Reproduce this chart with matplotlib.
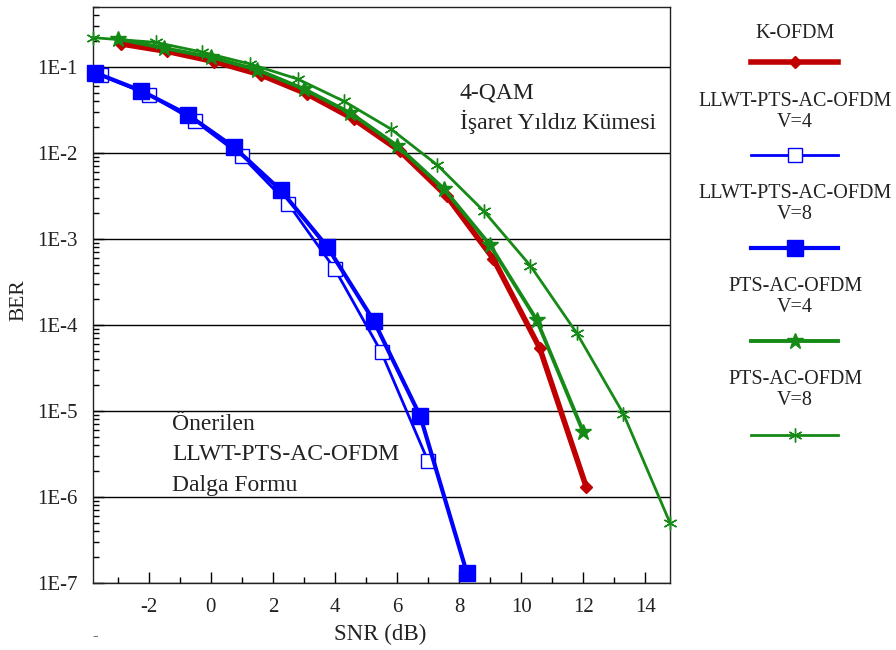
import matplotlib
matplotlib.use("Agg")
import matplotlib.pyplot as plt
from matplotlib.lines import Line2D
from matplotlib.ticker import LogLocator, FixedLocator, NullFormatter
import numpy as np

plt.rcParams['font.family'] = ['Liberation Serif', 'DejaVu Serif']

# ---- data ----
snr_k = [-2.9, -1.4, 0.1, 1.6, 3.1, 4.6, 6.1, 7.6, 9.1, 10.6, 12.1]
ber_k = [0.186, 0.152, 0.116, 0.0814, 0.0487, 0.0249, 0.0105, 0.00316, 5.93e-4, 5.4e-5, 1.31e-6]

snr_llwt4 = [-3.55, -2.0, -0.5, 1.0, 2.5, 4.0, 5.5, 7.0]
ber_llwt4 = [0.080, 0.0478, 0.0234, 0.00918, 0.00255, 4.45e-4, 4.8e-5, 2.62e-6]

snr_llwt8 = [-3.75, -2.25, -0.75, 0.75, 2.25, 3.75, 5.25, 6.75, 8.25]
ber_llwt8 = [0.0865, 0.0531, 0.028, 0.01167, 0.0037, 8.17e-4, 1.12e-4, 8.7e-6, 1.32e-7]

snr_pts4 = [-3.0, -1.5, 0.0, 1.5, 3.0, 4.5, 6.0, 7.5, 9.0, 10.5, 12.0]
ber_pts4 = [0.213, 0.166, 0.131, 0.093, 0.0556, 0.0292, 0.0122, 0.00387, 8.5e-4, 1.15e-4, 5.77e-6]

snr_pts8 = [-3.8, -1.78, -0.3, 1.25, 2.8, 4.3, 5.8, 7.3, 8.8, 10.3, 11.8, 13.3, 14.8]
ber_pts8 = [0.220, 0.194, 0.15, 0.109, 0.0726, 0.0399, 0.0191, 0.00726, 0.00211, 4.9e-4, 8.0e-5, 9.25e-6, 5.0e-7]

x_ticks = [-2, 0, 2, 4, 6, 8, 10, 12, 14]
y_ticks = [1e-7, 1e-6, 1e-5, 1e-4, 1e-3, 1e-2, 1e-1]
y_labels = ["1E-7", "1E-6", "1E-5", "1E-4", "1E-3", "1E-2", "1E-1"]

legend_names = ["K-OFDM", "LLWT-PTS-AC-OFDM\nV=4", "LLWT-PTS-AC-OFDM\nV=8",
                "PTS-AC-OFDM\nV=4", "PTS-AC-OFDM\nV=8"]

RED = '#c00000'
BLUE = '#0000ff'
GREEN = '#168a16'
TXT = '#222222'

fig = plt.figure(figsize=(8.96, 6.5), dpi=100)
ax = fig.add_axes([93/896, 1-583/650, (670-93)/896, (583-7)/650])

styles = [
    dict(color=RED, lw=4.0, marker='D', ms=6, mfc=RED, mec=RED, zorder=3),
    dict(color=BLUE, lw=2.0, marker='s', ms=10, mfc='white', mec=BLUE, mew=1.0, zorder=4),
    dict(color=BLUE, lw=3.0, marker='s', ms=11, mfc=BLUE, mec=BLUE, zorder=5),
    dict(color=GREEN, lw=2.8, marker='*', ms=12, mfc=GREEN, mec=GREEN, zorder=4),
    dict(color=GREEN, lw=2.0, marker=(6, 2, 0), ms=10, mfc=GREEN, mec=GREEN, mew=1.0, zorder=4),
]
series = [(snr_k, ber_k), (snr_llwt4, ber_llwt4), (snr_llwt8, ber_llwt8),
          (snr_pts4, ber_pts4), (snr_pts8, ber_pts8)]

for (x, y), st in zip(series, styles):
    ax.plot(x, y, clip_on=False, **st)

ax.set_yscale('log')
ax.set_xlim(-3.8, 14.8)
ax.set_ylim(1e-7, 0.5)

ax.yaxis.set_major_locator(FixedLocator(y_ticks))
ax.set_yticklabels(y_labels)
ax.yaxis.set_minor_locator(LogLocator(base=10, subs=np.arange(2, 10)))
ax.yaxis.set_minor_formatter(NullFormatter())
ax.set_xticks(x_ticks)
ax.set_xticklabels([str(t) for t in x_ticks])
ax.xaxis.set_minor_locator(FixedLocator(np.arange(-3, 15, 2)))

ax.tick_params(axis='both', which='major', direction='in', length=8, width=1,
               labelsize=15, top=False, right=False, labelcolor=TXT)
ax.tick_params(axis='y', which='major', pad=11)
ax.tick_params(axis='x', which='major', pad=11)
ax.tick_params(axis='both', which='minor', direction='in', length=4, width=1,
               top=False, right=False)

ax.grid(True, which='major', axis='y', color='black', lw=1.0)
for s in ax.spines.values():
    s.set_linewidth(1.0)
    s.set_color('#222222')

ax.set_xlabel("SNR (dB)", fontsize=16.5, color=TXT)
ax.set_ylabel("BER", fontsize=15.5, color=TXT)
ax.xaxis.set_label_coords((380-93)/577, -(624-583)/576)
ax.yaxis.set_label_coords((28-93)/577, (583-300)/576)

fig.text(460/896, 1-93/650, "4-QAM", fontsize=17, va='center', ha='left', color=TXT)
fig.text(460/896, 1-122/650, "İşaret Yıldız Kümesi", fontsize=17, va='center', ha='left', color=TXT)
fig.text(172/896, 1-425/650, "Önerilen", fontsize=17, va='center', ha='left', color=TXT)
fig.text(172/896, 1-455/650, "LLWT-PTS-AC-OFDM", fontsize=17, va='center', ha='left', color=TXT)
fig.text(172/896, 1-485/650, "Dalga Formu", fontsize=17, va='center', ha='left', color=TXT)
fig.text(95/896, 1-636/650, "-", fontsize=12, va='center', ha='center', color='#444444')

# ---- manual legend at right ----
text_y = [33, 112, 204, 297, 390]
line_y = [62, 155, 248, 341, 435]
for name, ty, ly, st in zip(legend_names, text_y, line_y, styles):
    fig.text(795/896, 1-ty/650, name, fontsize=14.5, ha='center', va='center',
             linespacing=1.2, color=TXT)
    kw = {k: v for k, v in st.items() if k != 'zorder'}
    fig.add_artist(Line2D([751/896, 795/896, 838/896], [1-ly/650]*3,
                          transform=fig.transFigure, markevery=[1], **kw))

fig.savefig("out.png", dpi=100)
